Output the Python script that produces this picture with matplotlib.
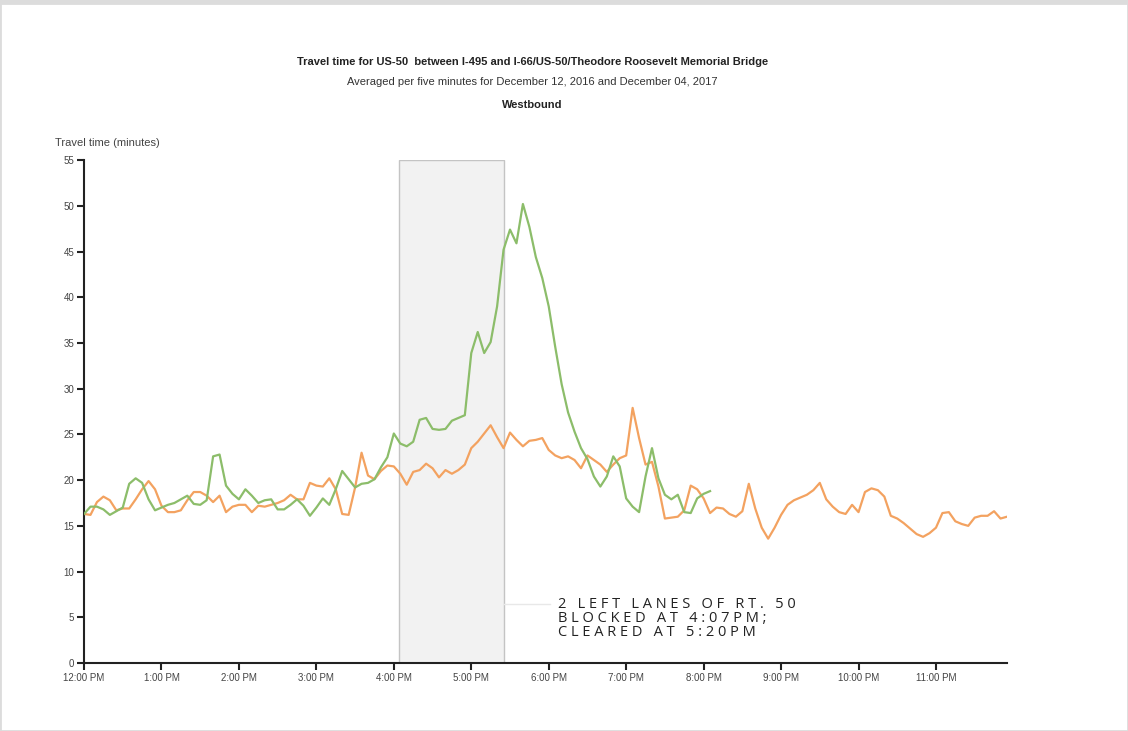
import numpy as np
import matplotlib
matplotlib.use("Agg")
import matplotlib.pyplot as plt
from matplotlib.patches import Rectangle

# travel times (minutes), one value per five minutes starting at 12:00 PM
dec_2017 = [16.3, 17.1, 17.1, 16.8, 16.2, 16.6, 17.0, 19.6, 20.2, 19.7,
            17.9, 16.7, 17.0, 17.3, 17.5, 17.9, 18.3, 17.4, 17.3, 17.8,
            22.6, 22.8, 19.4, 18.5, 17.9, 19.0, 18.3, 17.5, 17.8, 17.9,
            16.8, 16.8, 17.3, 17.9, 17.2, 16.1, 17.0, 18.0, 17.3, 19.0,
            21.0, 20.1, 19.2, 19.6, 19.7, 20.1, 21.4, 22.5, 25.1, 24.0,
            23.7, 24.2, 26.6, 26.8, 25.6, 25.5, 25.6, 26.5, 26.8, 27.1,
            33.9, 36.2, 33.9, 35.1, 39.0, 45.2, 47.4, 45.9, 50.2, 47.7,
            44.4, 42.1, 39.0, 34.6, 30.5, 27.4, 25.3, 23.5, 22.3, 20.4,
            19.3, 20.4, 22.6, 21.5, 18.0, 17.1, 16.5, 20.4, 23.5, 20.2,
            18.4, 17.9, 18.4, 16.5, 16.4, 18.0, 18.5, 18.8]

dec_2016 = [16.3, 16.2, 17.6, 18.2, 17.8, 16.7, 16.9, 16.9, 17.9, 19.0,
            19.9, 19.0, 17.2, 16.5, 16.5, 16.7, 17.8, 18.7, 18.7, 18.3,
            17.6, 18.3, 16.5, 17.1, 17.3, 17.3, 16.5, 17.2, 17.1, 17.3,
            17.5, 17.8, 18.4, 17.9, 17.9, 19.7, 19.4, 19.3, 20.2, 19.0,
            16.3, 16.2, 19.2, 23.0, 20.5, 20.1, 21.0, 21.6, 21.5, 20.7,
            19.5, 20.9, 21.1, 21.8, 21.3, 20.3, 21.1, 20.7, 21.1, 21.7,
            23.5, 24.2, 25.1, 26.0, 24.7, 23.5, 25.2, 24.4, 23.7, 24.3,
            24.4, 24.6, 23.3, 22.7, 22.4, 22.6, 22.2, 21.3, 22.7, 22.2,
            21.7, 20.9, 21.7, 22.4, 22.7, 27.9, 24.6, 21.7, 22.0, 19.3,
            15.8, 15.9, 16.0, 16.7, 19.4, 19.0, 18.0, 16.4, 17.0, 16.9,
            16.3, 16.0, 16.6, 19.6, 16.9, 14.8, 13.6, 14.8, 16.2, 17.3,
            17.8, 18.1, 18.4, 18.9, 19.7, 17.9, 17.1, 16.5, 16.3, 17.3,
            16.5, 18.7, 19.1, 18.9, 18.2, 16.1, 15.8, 15.3, 14.7, 14.1,
            13.8, 14.2, 14.8, 16.4, 16.5, 15.5, 15.2, 15.0, 15.9, 16.1,
            16.1, 16.6, 15.8, 16.0]

hour_labels = ["12:00 PM", "1:00 PM", "2:00 PM", "3:00 PM", "4:00 PM", "5:00 PM",
               "6:00 PM", "7:00 PM", "8:00 PM", "9:00 PM", "10:00 PM", "11:00 PM"]

# lane blockage window, hours after noon (as drawn)
block_start = 4 + 4 / 60
block_end = 5 + 25 / 60
note = ["2 LEFT LANES OF RT. 50", "BLOCKED AT 4:07PM;", "CLEARED AT 5:20PM"]

green = "#8cbd6a"
orange = "#f3a260"

t_2017 = np.arange(len(dec_2017)) * 5 / 60
t_2016 = np.arange(len(dec_2016)) * 5 / 60

plt.rcParams['font.family'] = ['Liberation Sans', 'DejaVu Sans']

fig = plt.figure(figsize=(11.28, 7.31), dpi=100)
ax = fig.add_axes([0.0745, 0.093, 0.8182, 0.688])

ax.axvspan(block_start, block_end, facecolor="#f2f2f2", edgecolor="#c4c4c4", linewidth=1, zorder=0)
ax.plot(t_2017, dec_2017, color=green, linewidth=1.6, zorder=3)
ax.plot(t_2016, dec_2016, color=orange, linewidth=1.6, zorder=2)

# faint leader from the blocked window to the note
ax.plot([block_end, block_end + 0.6], [6.5, 6.5], color="#e8e8e8", linewidth=1, zorder=1)
ax.text(block_end + 0.7, 7.2, "\n".join(" ".join(line) for line in note),
        fontsize=10.5, color="#222222", va="top", ha="left", linespacing=0.92,
        family=["Open Sans", "DejaVu Sans"])

ax.set_xlim(0, t_2016[-1])
ax.set_ylim(0, 55)
ax.set_xticks(range(len(hour_labels)))
ax.set_xticklabels(hour_labels)
ax.set_yticks(range(0, 56, 5))

for side in ["top", "right"]:
    ax.spines[side].set_visible(False)
for side in ["left", "bottom"]:
    ax.spines[side].set_linewidth(1.5)
    ax.spines[side].set_color("#222222")
ax.tick_params(axis="both", length=5, width=1.5, color="#222222",
               labelsize=7, labelcolor="#444444", pad=2)

fig.text(0.0488, 0.804, "Travel time (minutes)", fontsize=8, color="#444444", ha="left", va="center")
fig.text(0.472, 0.915, "Travel time for US-50  between I-495 and I-66/US-50/Theodore Roosevelt Memorial Bridge",
         fontsize=8, fontweight="bold", ha="center", va="center", color="#222222")
fig.text(0.472, 0.888, "Averaged per five minutes for December 12, 2016 and December 04, 2017",
         fontsize=8, ha="center", va="center", color="#333333")
fig.text(0.472, 0.856, "Westbound", fontsize=8, fontweight="bold", ha="center", va="center", color="#222222")

# light frame of the screenshot
fig.patches.append(Rectangle((0, 0), 1, 0.996, transform=fig.transFigure, fill=False,
                             edgecolor="#dcdcdc", linewidth=2))
fig.patches.append(Rectangle((0, 0.996), 1, 0.004, transform=fig.transFigure,
                             facecolor="#dcdcdc", edgecolor="none"))

fig.savefig("out.png", dpi=100)
